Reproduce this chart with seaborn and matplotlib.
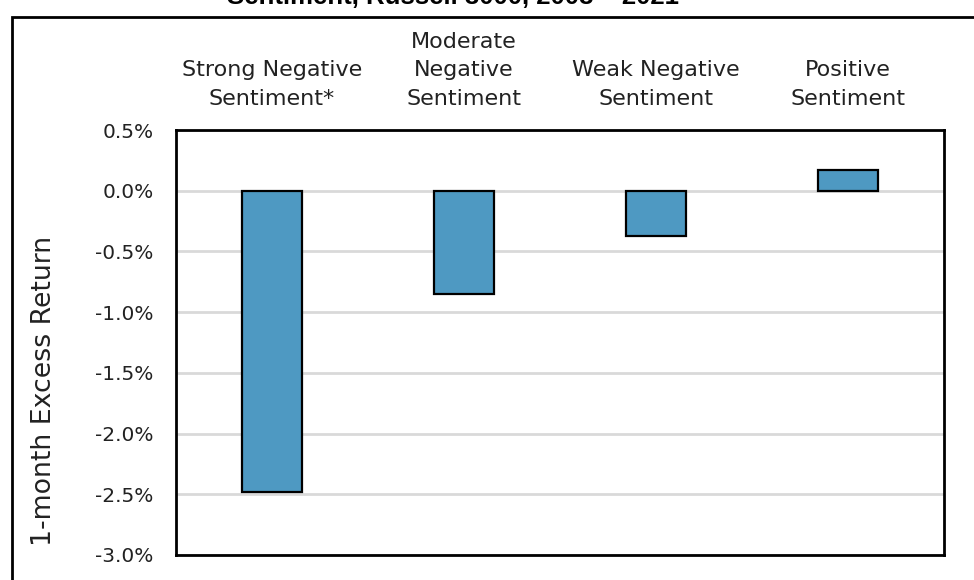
import matplotlib
matplotlib.use("Agg")
import matplotlib.pyplot as plt
from matplotlib.patches import Rectangle
from matplotlib.ticker import FuncFormatter
import seaborn as sns
import pandas as pd

categories = [
    "Strong Negative\nSentiment*",
    "Moderate\nNegative\nSentiment",
    "Weak Negative\nSentiment",
    "Positive\nSentiment",
]
excess_return = [-2.48, -0.85, -0.37, 0.17]
y_ticks = [0.5, 0.0, -0.5, -1.0, -1.5, -2.0, -2.5, -3.0]
title = "Sentiment, Russell 3000, 2008 \u2013 2021"
y_label = "1-month Excess Return"

sns.set_theme(style="white")
plt.rcParams["font.family"] = ["DejaVu Sans"]

df = pd.DataFrame({"category": categories, "ret": excess_return})

fig = plt.figure(figsize=(9.74, 5.8), dpi=100)
ax = fig.add_axes([176 / 974, 1 - 555 / 580, (944 - 176) / 974, (555 - 130) / 580])

sns.barplot(data=df, x="category", y="ret", color="#4E99C2", saturation=1,
            width=0.31, edgecolor="black", linewidth=1.6, ax=ax, zorder=3)

ax.set_ylim(-3.0, 0.5)
ax.set_yticks(y_ticks)
ax.yaxis.set_major_formatter(FuncFormatter(lambda v, _: f"{v:.1f}%"))
ax.yaxis.grid(True, color="#d9d9d9", linewidth=2, zorder=0)
ax.set_axisbelow(True)

ax.xaxis.tick_top()
ax.tick_params(axis="x", length=0, pad=15, labelsize=16, colors="#222222")
for lbl in ax.get_xticklabels():
    lbl.set_linespacing(1.55)
ax.tick_params(axis="y", length=0, pad=16, labelsize=14.5, colors="#222222")
ax.set_xlabel("")
ax.set_ylabel(y_label, fontsize=19.3, color="#222222")
ax.yaxis.set_label_coords(-0.155, 0.385)

for s in ax.spines.values():
    s.set_visible(True)
    s.set_color("black")
    s.set_linewidth(2)

# outer frame around the panel
fig.patches.append(Rectangle((12 / 974, -0.1), 1.2, 1 - 17 / 580 + 0.1,
                             transform=fig.transFigure, fill=False,
                             edgecolor="black", linewidth=2))

fig.text(453 / 974, 1 - 4 / 580, title, ha="center", va="baseline",
         fontsize=18.5, fontweight="bold", family=["Liberation Sans", "DejaVu Sans"],
         color="black")

fig.savefig("out.png", dpi=100)
